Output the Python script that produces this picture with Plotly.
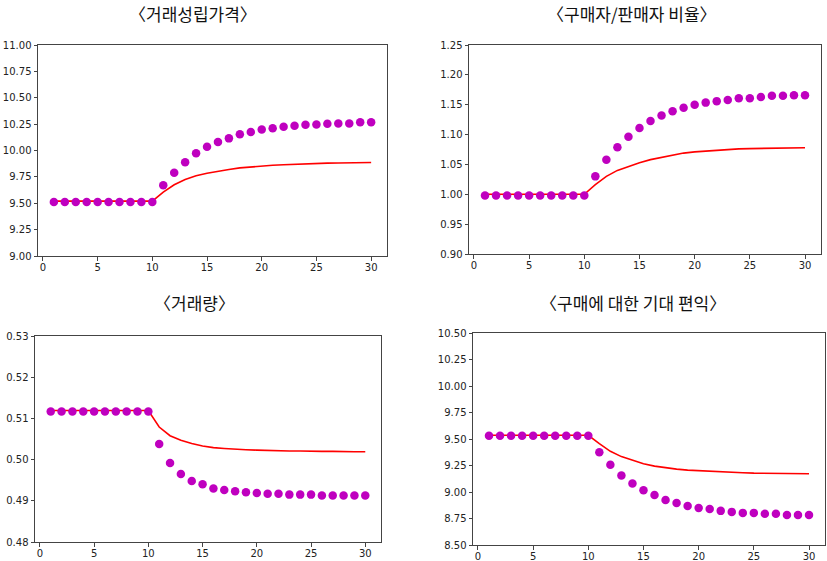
import plotly.graph_objects as go

x = list(range(1, 31))

price_dots = [9.512]*10 + [9.67, 9.79, 9.888, 9.973, 10.036, 10.08, 10.115, 10.153, 10.175, 10.20,
                           10.21, 10.226, 10.235, 10.245, 10.247, 10.254, 10.256, 10.257, 10.267, 10.268]
price_line = [9.52]*10 + [9.605, 9.675, 9.725, 9.76, 9.785, 9.805, 9.82, 9.835, 9.845, 9.853,
                          9.86, 9.865, 9.87, 9.874, 9.877, 9.88, 9.882, 9.884, 9.885, 9.886]

ratio_dots = [0.998]*10 + [1.030, 1.058, 1.0787, 1.0965, 1.111, 1.1228, 1.132, 1.139, 1.145, 1.150,
                           1.1535, 1.156, 1.158, 1.161, 1.161, 1.163, 1.165, 1.165, 1.166, 1.166]
ratio_line = [1.000]*10 + [1.016, 1.030, 1.040, 1.047, 1.053, 1.058, 1.062, 1.066, 1.069, 1.071,
                           1.0725, 1.074, 1.075, 1.076, 1.0765, 1.077, 1.0775, 1.078, 1.078, 1.078]

volume_dots = [0.5117]*10 + [0.5038, 0.4992, 0.4965, 0.4948, 0.4940, 0.4930, 0.4926, 0.4923, 0.4921, 0.4919,
                             0.4917, 0.4917, 0.4915, 0.4915, 0.4915, 0.4913, 0.4913, 0.4913, 0.4913, 0.4913]
volume_line = [0.5119]*10 + [0.5079, 0.5058, 0.5047, 0.5039, 0.5033, 0.5029, 0.5027, 0.5025, 0.5024, 0.5023,
                             0.5022, 0.5022, 0.5021, 0.5021, 0.5020, 0.5020, 0.5020, 0.5019, 0.5019, 0.5019]

benefit_dots = [9.531]*10 + [9.375, 9.256, 9.156, 9.081, 9.016, 8.972, 8.925, 8.897, 8.869, 8.85,
                             8.84, 8.822, 8.8125, 8.803, 8.803, 8.794, 8.794, 8.784, 8.784, 8.784]
benefit_line = [9.535]*10 + [9.456, 9.384, 9.334, 9.297, 9.266, 9.244, 9.228, 9.216, 9.206, 9.20,
                             9.195, 9.19, 9.186, 9.182, 9.178, 9.176, 9.175, 9.174, 9.173, 9.172]

titles = ["〈거래성립가격〉", "〈구매자/판매자 비율〉", "〈거래량〉", "〈구매에 대한 기대 편익〉"]
y_ranges = [(9.0, 11.0), (0.90, 1.25), (0.48, 0.53), (8.5, 10.5)]
y_dticks = [0.25, 0.05, 0.01, 0.25]
x_ticks = [0, 5, 10, 15, 20, 25, 30]

series = [(price_dots, price_line), (ratio_dots, ratio_line),
          (volume_dots, volume_line), (benefit_dots, benefit_line)]

W, H = 827, 561
# pixel boxes: (left, right, top, bottom)
boxes = [(38, 387, 45, 256), (469, 821, 45, 254), (35, 381, 336, 542), (473, 825, 333, 545)]
title_pos = [(193, 13), (632, 13), (194, 302), (633, 302)]

fig = go.Figure()
layout = dict(width=W, height=H, margin=dict(l=0, r=0, t=0, b=0),
              plot_bgcolor="white", paper_bgcolor="white", showlegend=False,
              font=dict(family="DejaVu Sans", size=10, color="#222222"))
annotations = []
for i, ((dots, line), box, yr, dt, ttl, tp) in enumerate(zip(series, boxes, y_ranges, y_dticks, titles, title_pos)):
    n = "" if i == 0 else str(i + 1)
    xa, ya = "x" + n, "y" + n
    fig.add_trace(go.Scatter(x=x, y=line, mode="lines", line=dict(color="red", width=1.6),
                             xaxis=xa, yaxis=ya))
    fig.add_trace(go.Scatter(x=x, y=dots, mode="markers",
                             marker=dict(color="#bf00bf", size=8.5, line=dict(width=0)),
                             xaxis=xa, yaxis=ya))
    l, r, t, b = box
    axstyle = dict(showline=True, mirror=True, linecolor="#444444", linewidth=1,
                   ticks="outside", ticklen=3.5, tickcolor="#444444", showgrid=False,
                   zeroline=False, automargin=False, tickfont=dict(size=10, color="#222222"))
    layout["xaxis" + n] = dict(domain=[l / W, r / W], range=[-0.45, 31.45], tickvals=x_ticks,
                               anchor=ya, ticklabelstandoff=-2, **axstyle)
    layout["yaxis" + n] = dict(domain=[1 - b / H, 1 - t / H], range=list(yr), dtick=dt,
                               tick0=yr[0], tickformat=".2f", anchor=xa, **axstyle)
    annotations.append(dict(text=ttl, x=tp[0] / W, y=1 - tp[1] / H, xref="paper", yref="paper",
                            showarrow=False, xanchor="center", yanchor="middle",
                            font=dict(family="Noto Sans CJK KR", size=17, color="#111111")))
layout["annotations"] = annotations
fig.update_layout(**layout)
fig.write_html("out.html", config={"displayModeBar": False},
               post_script="document.body.style.margin='0';document.body.style.overflow='hidden';")
